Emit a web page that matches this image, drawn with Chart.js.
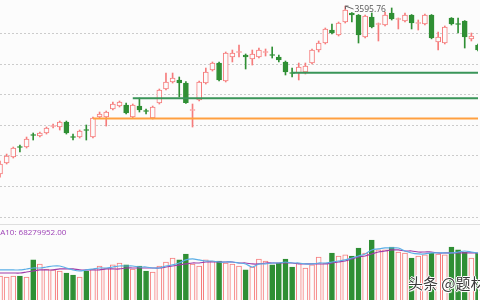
<!DOCTYPE html>
<html><head><meta charset="utf-8">
<script src="https://cdn.jsdelivr.net/npm/chart.js@4"></script>
<style>
html,body{margin:0;padding:0;background:#fcfcfc;}
#wrap{position:relative;width:480px;height:300px;overflow:hidden;background:#fcfcfc;}
#pbox{position:absolute;left:0;top:0;width:480px;height:225px;}
#vbox{position:absolute;left:0;top:225px;width:480px;height:84px;}
#sep{position:absolute;left:0;top:224px;width:480px;height:1px;background:#dedede;}
#ma{position:absolute;left:-7px;top:226px;font:8px "Open Sans",sans-serif;color:#9c3fb5;white-space:nowrap;}
#wm{position:absolute;left:408px;top:272px;font:15px "Noto Sans CJK SC",sans-serif;color:#3a3a3a;white-space:nowrap;
 text-shadow:1px 0 0 #fff,-1px 0 0 #fff,0 1px 0 #fff,0 -1px 0 #fff,1px 1px 1px #fff;}
</style></head>
<body>
<div id="wrap">
  <div id="pbox"><canvas id="price"></canvas></div>
  <div id="vbox"><canvas id="vol"></canvas></div>
  <div id="sep"></div>
  <div id="ma">MA10: 68279952.00</div>
  <div id="wm">头条 @题材</div>
</div>
<script>
const categories = ['1','2','3','4','5','6','7','8','9','10','11','12','13','14','15','16','17','18','19','20',
'21','22','23','24','25','26','27','28','29','30','31','32','33','34','35','36','37','38','39','40',
'41','42','43','44','45','46','47','48','49','50','51','52','53','54','55','56','57','58','59','60',
'61','62','63','64','65','66','67','68','69','70','71','72','73'];

const open = [3320.5,3338.5,3348.3,3365.5,3364.7,3385.2,3382.8,3387.7,3398.3,3397.5,
3405.7,3381.9,3381.1,3393.4,3381.1,3413.9,3413.9,3427.0,3431.9,3433.6,
3413.9,3431.9,3424.6,3412.3,3436.9,3459.8,3471.3,3474.6,3469.6,3424.6,
3441.8,3469.6,3490.9,3502.4,3472.9,3512.3,3519.6,3515.5,3509.0,3512.3,
3519.6,3516.4,3512.3,3504.1,3486.9,3486.0,3487.7,3502.4,3523.7,3535.2,
3556.5,3548.3,3569.6,3584.4,3581.1,3545.0,3577.8,3565.5,3564.7,3584.4,
3573.7,3571.3,3581.1,3567.2,3566.4,3581.1,3536.9,3535.2,3576.2,3567.2,
3571.3,3541.8,3531.9];
const close = [3336.9,3350.0,3363.1,3363.9,3377.8,3383.6,3387.7,3395.9,3399.9,3405.7,
3387.7,3380.3,3390.9,3391.8,3412.3,3418.8,3422.1,3435.2,3438.5,3420.5,
3433.6,3425.4,3422.9,3430.3,3458.2,3471.3,3477.8,3469.6,3437.5,3426.2,
3471.3,3487.7,3502.4,3474.6,3518.8,3518.8,3521.3,3512.3,3517.2,3523.7,
3521.3,3514.7,3507.3,3487.7,3485.2,3495.9,3497.5,3523.7,3535.2,3558.2,
3551.6,3568.0,3589.3,3581.1,3548.3,3579.5,3561.4,3567.2,3581.1,3574.6,
3575.4,3581.1,3568.0,3568.8,3581.1,3543.4,3545.0,3561.4,3566.4,3565.5,
3545.0,3546.7,3523.7];
const high = [3341.8,3353.2,3364.7,3368.0,3381.1,3387.7,3389.3,3397.5,3402.4,3407.3,
3407.3,3386.0,3392.6,3400.8,3413.9,3422.1,3423.7,3438.5,3440.1,3436.9,
3435.2,3445.0,3427.0,3431.9,3459.8,3486.0,3486.0,3479.5,3471.8,3435.2,
3472.9,3494.2,3504.1,3504.1,3520.5,3523.7,3531.9,3517.2,3523.7,3527.0,
3525.4,3528.7,3515.5,3505.7,3494.2,3502.4,3502.4,3525.4,3538.5,3559.8,
3566.4,3569.6,3595.76,3585.2,3581.9,3581.1,3584.4,3568.0,3586.0,3592.6,
3576.2,3584.4,3581.9,3572.9,3582.7,3581.9,3553.2,3563.1,3576.9,3576.2,
3572.0,3551.6,3533.6];
const low = [3315.5,3336.9,3346.7,3356.5,3363.1,3376.2,3381.1,3386.0,3395.9,3392.6,
3386.0,3376.2,3379.5,3376.2,3379.5,3412.3,3399.1,3425.4,3430.3,3418.8,
3412.3,3422.1,3418.8,3410.6,3435.2,3458.2,3469.6,3446.7,3436.0,3397.5,
3440.1,3468.0,3489.3,3473.0,3471.3,3504.1,3512.3,3492.6,3499.1,3510.6,
3513.9,3510.6,3504.1,3482.8,3479.5,3474.6,3484.4,3500.8,3520.5,3533.6,
3550.0,3546.7,3568.0,3569.6,3535.2,3543.4,3560.0,3538.5,3563.1,3572.9,
3558.2,3569.6,3558.2,3556.5,3564.7,3542.0,3523.7,3533.6,3564.7,3551.6,
3527.0,3538.5,3522.1];

// volume, millions
const volume = [40.2,39.0,40.2,40.2,39.0,59.8,54.9,48.8,47.6,46.3,
43.9,41.5,39.0,46.3,48.8,52.4,50.0,53.7,56.1,53.7,
48.8,52.4,46.3,45.1,52.4,57.3,62.2,59.8,67.1,54.9,
52.4,59.8,58.5,58.5,56.1,54.9,52.4,47.6,51.2,61.0,
58.5,53.7,56.1,61.0,51.2,56.1,50.0,53.7,63.4,56.1,
68.3,64.6,65.9,64.6,74.4,68.3,84.1,72.0,72.0,75.6,
69.5,68.3,62.2,64.6,65.9,68.3,67.1,65.9,75.6,72.0,
69.5,62.2,68.3];
const ma5 = [47.6,47.6,47.6,47.6,48.8,50.0,50.0,51.2,52.4,52.4,
50.0,47.6,46.3,47.6,48.8,50.0,50.0,51.2,52.4,52.4,
52.4,51.2,51.2,50.0,50.0,52.4,53.7,56.1,59.8,61.0,
59.8,58.5,58.5,57.3,57.3,57.3,56.1,54.9,51.2,54.9,
54.9,56.1,56.1,57.3,56.1,56.1,54.9,54.9,56.1,56.1,
57.3,58.5,59.8,62.2,64.6,67.1,72.0,73.2,74.4,74.4,
74.4,70.7,68.3,67.1,67.1,68.3,68.3,68.3,68.3,69.5,
70.7,69.5,68.3];
const ma10 = [43.9,43.9,43.9,43.9,45.1,46.3,47.6,47.6,47.6,48.8,
48.8,48.8,47.6,47.6,47.6,47.6,48.8,48.8,48.8,50.0,
50.0,50.0,50.0,50.0,50.0,51.2,52.4,53.7,54.9,56.1,
56.1,57.3,57.3,57.3,57.3,57.3,56.1,56.1,54.9,54.9,
56.1,56.1,56.1,56.1,56.1,54.9,54.9,54.9,54.9,54.9,
56.1,57.3,58.5,61.0,63.4,64.6,67.1,69.5,70.7,72.0,
72.0,70.7,70.7,69.5,69.5,69.5,68.3,68.3,68.3,68.3,
68.3,68.3,68.28];

// horizontal support / resistance levels (value, starting candle index)
const levelValues = [3411.4, 3444.6, 3486.5];
const levelStarts = [14, 20, 44];
const levelColors = ['#ffa040', '#3a9559', '#3a9559'];

const RED = '#f67c7c', GREEN = '#2f8f34', BG = '#fcfcfc';
const isUp = open.map((o, i) => close[i] >= o);

const levelSets = levelValues.map((v, k) => ({
  type: 'line',
  data: categories.map((_, i) => i >= levelStarts[k] ? v : null),
  borderColor: levelColors[k], borderWidth: 2, pointRadius: 0, order: 0, spanGaps: false
}));

const peakLabel = {
  id: 'peakLabel',
  afterDatasetsDraw(chart) {
    const i = high.indexOf(Math.max(...high));
    const x = Math.round(chart.scales.x.getPixelForValue(i)) + 0.5;
    const y = chart.scales.y.getPixelForValue(high[i]);
    const ctx = chart.ctx;
    ctx.save();
    ctx.strokeStyle = '#666'; ctx.lineWidth = 1;
    ctx.beginPath();
    ctx.moveTo(x, y); ctx.lineTo(x + 8, y + 3);
    ctx.moveTo(x, y); ctx.lineTo(x, y + 3);
    ctx.moveTo(x, y); ctx.lineTo(x + 3, y);
    ctx.stroke();
    ctx.fillStyle = '#555'; ctx.font = '8.5px "Open Sans"'; ctx.textBaseline = 'middle';
    ctx.fillText(high[i].toFixed(2), x + 9, y + 4);
    ctx.restore();
  }
};

const xAxis = { type: 'category', offset: false, display: false, grid: { display: false } };

new Chart(document.getElementById('price'), {
  type: 'bar',
  data: {
    labels: categories,
    datasets: [
      ...levelSets,
      { type: 'bar', data: open.map((o, i) => [Math.min(o, close[i]), Math.max(o, close[i])]),
        backgroundColor: isUp.map(u => u ? BG : GREEN), borderColor: isUp.map(u => u ? RED : GREEN),
        borderWidth: 1, borderSkipped: false, barThickness: 5, grouped: false, order: 1 },
      { type: 'bar', data: low.map((l, i) => [l, high[i]]),
        backgroundColor: isUp.map(u => u ? RED : GREEN), barThickness: 1, grouped: false, order: 2 }
    ]
  },
  options: {
    responsive: true, maintainAspectRatio: false, animation: false,
    layout: { padding: { left: 0, right: 2, top: 0, bottom: 0 } },
    plugins: { legend: { display: false }, tooltip: { enabled: false } },
    scales: {
      x: xAxis,
      y: { min: 3236.9, max: 3605.7, display: true,
        ticks: { display: false, stepSize: 50, includeBounds: false },
        border: { display: false, dash: [2, 2] },
        grid: { drawTicks: false, lineWidth: 1,
          color: c => (c.tick && c.tick.value > 3560) ? 'rgba(0,0,0,0)' : '#cccccc' } }
    }
  },
  plugins: [peakLabel]
});

new Chart(document.getElementById('vol'), {
  type: 'bar',
  data: {
    labels: categories,
    datasets: [
      { type: 'line', data: ma5, borderColor: '#5aaee6', borderWidth: 1.2, pointRadius: 0, tension: 0.3, order: 0 },
      { type: 'line', data: ma10, borderColor: '#a03ca8', borderWidth: 1.2, pointRadius: 0, tension: 0.3, order: 0 },
      { type: 'bar', data: volume,
        backgroundColor: isUp.map(u => u ? BG : GREEN), borderColor: isUp.map(u => u ? RED : GREEN),
        borderWidth: 1, borderSkipped: false, barThickness: 5, grouped: false, order: 1 }
    ]
  },
  options: {
    responsive: true, maintainAspectRatio: false, animation: false,
    layout: { padding: { left: 0, right: 2, top: 0, bottom: 0 } },
    plugins: { legend: { display: false }, tooltip: { enabled: false } },
    scales: {
      x: xAxis,
      y: { min: 0, max: 102.4, display: true,
        ticks: { display: false, stepSize: 50, includeBounds: false },
        border: { display: false, dash: [2, 2] },
        grid: { drawTicks: false,
          color: c => (c.tick && c.tick.value === 50) ? '#cccccc' : 'rgba(0,0,0,0)' } }
    }
  }
});
</script>
</body></html>
